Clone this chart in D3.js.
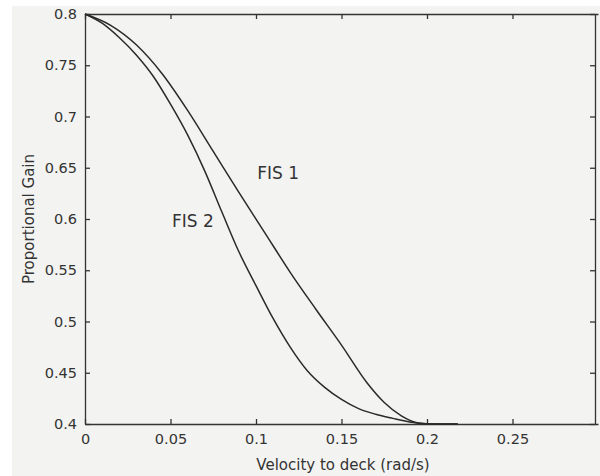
<!DOCTYPE html>
<html>
<head>
<meta charset="utf-8">
<script src="https://d3js.org/d3.v7.min.js"></script>
<style>
  body { margin: 0; background: #ffffff; }
  text { font-family: "DejaVu Sans", sans-serif; fill: #333; }
</style>
</head>
<body>
<div id="line_dataviz"></div>
<script>
// values
var fis1X = [0, 0.015, 0.03, 0.045, 0.06, 0.075, 0.09, 0.105, 0.12, 0.135, 0.15, 0.165, 0.175, 0.185, 0.195, 0.205, 0.218];
var fis1Y = [0.8, 0.789, 0.770, 0.742, 0.706, 0.666, 0.626, 0.587, 0.548, 0.512, 0.477, 0.440, 0.421, 0.408, 0.401, 0.4, 0.4];
var fis2X = [0, 0.01, 0.02, 0.03, 0.04, 0.05, 0.06, 0.07, 0.08, 0.09, 0.1, 0.11, 0.12, 0.13, 0.14, 0.15, 0.16, 0.17, 0.18, 0.19, 0.2, 0.218];
var fis2Y = [0.8, 0.791, 0.777, 0.760, 0.739, 0.712, 0.682, 0.647, 0.607, 0.568, 0.535, 0.503, 0.475, 0.452, 0.436, 0.424, 0.415, 0.4095, 0.4055, 0.402, 0.4, 0.4];
var xTicks = [0, 0.05, 0.1, 0.15, 0.2, 0.25];
var yTicks = [0.4, 0.45, 0.5, 0.55, 0.6, 0.65, 0.7, 0.75, 0.8];
var seriesNames = ["FIS 1", "FIS 2"];

// setting the dimensions of the graph
var margin = {top: 14, right: 2, bottom: 52, left: 85},
    width = 600 - margin.left - margin.right,
    height = 476 - margin.top - margin.bottom;

var root = d3.select("#line_dataviz")
  .append("svg")
    .attr("width", 600)
    .attr("height", 476);

// scanned paper background
root.append("rect")
  .attr("x", 12).attr("y", 6)
  .attr("width", 588).attr("height", 470)
  .attr("fill", "#f3f3f2");

var svg = root.append("g")
    .attr("transform", "translate(" + margin.left + "," + margin.top + ")");

var x = d3.scaleLinear().domain([0, 0.3]).range([0, width]);
var y = d3.scaleLinear().domain([0.4, 0.8]).range([height, 0]);

function fmt(d) { return d === 0 ? "0" : String(+d.toFixed(2)); }

// bottom axis + mirrored top
svg.append("g")
  .attr("transform", "translate(0," + height + ")")
  .call(d3.axisBottom(x).tickValues(xTicks).tickSizeInner(-5).tickSizeOuter(0).tickPadding(10).tickFormat(fmt));
svg.append("g")
  .call(d3.axisTop(x).tickValues(xTicks).tickSizeInner(-5).tickSizeOuter(0).tickFormat(""));

// left axis + mirrored right
svg.append("g")
  .call(d3.axisLeft(y).tickValues(yTicks).tickSizeInner(-5).tickSizeOuter(0).tickPadding(8).tickFormat(fmt));
svg.append("g")
  .attr("transform", "translate(" + (width - 3) + ",0)")
  .call(d3.axisRight(y).tickValues(yTicks).tickSizeInner(-5).tickSizeOuter(0).tickFormat(""));

svg.selectAll(".domain, .tick line")
  .attr("stroke", "#333")
  .attr("stroke-width", 1.3);
svg.selectAll(".tick text")
  .attr("font-size", 14.5)
  .attr("font-family", "DejaVu Sans, sans-serif")
  .attr("fill", "#333");

// the two curves
var line = d3.line()
  .x(function(d) { return x(d[0]); })
  .y(function(d) { return y(d[1]); })
  .curve(d3.curveMonotoneX);

[[fis1X, fis1Y], [fis2X, fis2Y]].forEach(function(s) {
  svg.append("path")
    .datum(s[0].map(function(v, i) { return [v, s[1][i]]; }))
    .attr("fill", "none")
    .attr("stroke", "#2a2a2a")
    .attr("stroke-width", 1.5)
    .attr("d", line);
});

// curve labels
svg.append("text")
  .attr("x", x(0.1007)).attr("y", y(0.6387))
  .attr("font-family", "DejaVu Sans Condensed, DejaVu Sans, sans-serif")
  .attr("font-size", 17)
  .text(seriesNames[0]);
svg.append("text")
  .attr("x", x(0.0509)).attr("y", y(0.5924))
  .attr("font-family", "DejaVu Sans Condensed, DejaVu Sans, sans-serif")
  .attr("font-size", 17)
  .text(seriesNames[1]);

// axis titles
svg.append("text")
  .attr("x", 258).attr("y", height + 46)
  .attr("text-anchor", "middle")
  .attr("font-size", 15)
  .text("Velocity to deck (rad/s)");
svg.append("text")
  .attr("transform", "translate(-51," + (height / 2) + ") rotate(-90)")
  .attr("text-anchor", "middle")
  .attr("font-size", 15)
  .text("Proportional Gain");
</script>
</body>
</html>
